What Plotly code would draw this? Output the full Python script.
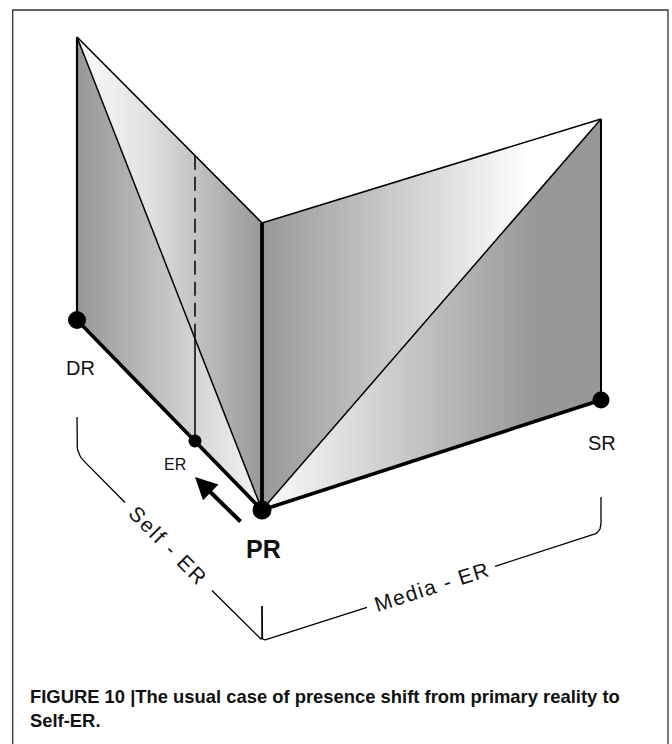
import numpy as np
import plotly.graph_objects as go

# ---------------- diagram data (canvas coordinates) ----------------
node_labels = ["DR", "ER", "PR", "SR"]
node_x = [77, 195, 262, 601]
node_y = [320, 441, 510, 400]

# top corners of the two walls: above DR, above PR (fold), above SR
top_x = [77, 262, 601]
top_y = [37, 223, 119]

bracket_labels = ["Self - ER", "Media - ER"]
caption_lines = ["FIGURE 10 |The usual case of presence shift from primary reality to",
                 "Self-ER."]

# ---------------- derived geometry ----------------
DR = (node_x[0], node_y[0]); ER = (node_x[1], node_y[1])
PR = (node_x[2], node_y[2]); SR = (node_x[3], node_y[3])
A = (top_x[0], top_y[0]); F = (top_x[1], top_y[1]); S = (top_x[2], top_y[2])

FONT = "Liberation Sans, Arial, sans-serif"

fig = go.Figure()

# ---------------- gradient faces (heatmap, NaN outside) ----------------
xs = np.arange(60, 620) + 0.5
ys = np.arange(25, 525) + 0.5
X, Y = np.meshgrid(xs, ys)
Z = np.full(X.shape, np.nan)


def inside(tri):
    (x1, y1), (x2, y2), (x3, y3) = tri
    d1 = (X - x2) * (y1 - y2) - (x1 - x2) * (Y - y2)
    d2 = (X - x3) * (y2 - y3) - (x2 - x3) * (Y - y3)
    d3 = (X - x1) * (y3 - y1) - (x3 - x1) * (Y - y1)
    neg = (d1 < 0) | (d2 < 0) | (d3 < 0)
    pos = (d1 > 0) | (d2 > 0) | (d3 > 0)
    return ~(neg & pos)


faces = [
    ((A, DR, PR), [77, 255], [150, 243]),          # left wall, lower triangle
    ((A, F, PR), [77, 150, 262], [252, 224, 152]),  # left wall, upper triangle
    ((F, S, PR), [262, 530], [152, 255]),           # right wall, upper triangle
    ((PR, S, SR), [262, 535], [252, 152]),          # right wall, lower triangle
]
for tri, gx, gv in faces:
    m = inside(tri)
    Z[m] = np.round(np.interp(X[m], gx, gv))

fig.add_trace(go.Heatmap(
    x=xs, y=ys, z=Z, zmin=0, zmax=255,
    colorscale=[[0, "rgb(0,0,0)"], [1, "rgb(255,255,255)"]],
    showscale=False, hoverinfo="skip", zsmooth=False,
))


def seg(p, q, w, dash=None):
    fig.add_trace(go.Scatter(
        x=[p[0], q[0]], y=[p[1], q[1]], mode="lines",
        line=dict(color="black", width=w, dash=dash),
        hoverinfo="skip", showlegend=False,
    ))


def on_line(p, q, x):
    return p[1] + (q[1] - p[1]) * (x - p[0]) / (q[0] - p[0])


# edges
seg(A, F, 1.6)
seg(A, PR, 1.5)
seg(F, S, 1.6)
seg(PR, S, 1.5)
seg(A, DR, 2.2)
seg(S, SR, 2.0)
seg(F, PR, 3.8)
seg(DR, PR, 3.6)
seg(PR, SR, 3.6)

# ER vertical: dashed above the A-PR diagonal, solid below
er_top = on_line(A, F, ER[0])
er_mid = on_line(A, PR, ER[0])
seg((ER[0], er_top), (ER[0], er_mid), 1.5, dash="14px,7px")
seg((ER[0], er_mid), ER, 1.5)


# ---------------- brackets ----------------
def rounded(points, r, n=10):
    pts = [np.array(p, float) for p in points]
    out = [pts[0]]
    for i in range(1, len(pts) - 1):
        p0, p1, p2 = pts[i - 1], pts[i], pts[i + 1]
        d1 = (p0 - p1) / np.linalg.norm(p0 - p1)
        d2 = (p2 - p1) / np.linalg.norm(p2 - p1)
        a = p1 + d1 * r
        b = p1 + d2 * r
        for t in np.linspace(0, 1, n):
            out.append((1 - t) ** 2 * a + 2 * (1 - t) * t * p1 + t ** 2 * b)
    out.append(pts[-1])
    arr = np.array(out)
    return arr[:, 0], arr[:, 1]


def bline(points, r):
    bx, by = rounded(points, r)
    fig.add_trace(go.Scatter(x=bx, y=by, mode="lines",
                             line=dict(color="black", width=1.3),
                             hoverinfo="skip", showlegend=False))


# left bracket (parallel to DR-PR), right bracket (parallel to PR-SR)
bl_top = (DR[0], 417)
bl_corner = (DR[0], 454)
b_bottom = (PR[0], 641)
b_tick = (PR[0], 606)
br_corner = (SR[0], 532.4)
br_top = (SR[0], 497)


def along(p, q, x):
    return (x, on_line(p, q, x))


bline([bl_top, bl_corner, along(bl_corner, b_bottom, 125)], 10)
bline([along(bl_corner, b_bottom, 212), b_bottom, b_tick], 5)
bline([b_tick, b_bottom, along(b_bottom, br_corner, 367)], 5)
bline([along(b_bottom, br_corner, 495), br_corner, br_top], 9)

# ---------------- nodes ----------------
fig.add_trace(go.Scatter(
    x=node_x, y=node_y, mode="markers",
    marker=dict(color="black", size=[18, 13, 19, 17], opacity=1, line=dict(width=0)),
    hoverinfo="skip", showlegend=False,
))

# ---------------- labels ----------------
ann = []
label_pos = {"DR": (80, 368, 20, False), "ER": (175, 464, 16, False),
             "PR": (263, 549, 25, True), "SR": (602, 443, 20, False)}
for lab in node_labels:
    lx, ly, fs, bold = label_pos[lab]
    ann.append(dict(x=lx, y=ly, text=f"<b>{lab}</b>" if bold else lab,
                    showarrow=False, xanchor="center", yanchor="middle",
                    font=dict(family=FONT, size=fs, color="#111")))

ang_l = np.degrees(np.arctan2(b_bottom[1] - bl_corner[1], b_bottom[0] - bl_corner[0]))
ang_r = np.degrees(np.arctan2(br_corner[1] - b_bottom[1], br_corner[0] - b_bottom[0]))
ann.append(dict(x=168, y=on_line(bl_corner, b_bottom, 168),
                text=f'<span style="letter-spacing:2px">{bracket_labels[0]}</span>',
                textangle=ang_l, showarrow=False, xanchor="center", yanchor="middle",
                font=dict(family=FONT, size=21, color="#111")))
ann.append(dict(x=432, y=on_line(b_bottom, br_corner, 432),
                text=f'<span style="letter-spacing:1.5px">{bracket_labels[1]}</span>',
                textangle=ang_r, showarrow=False, xanchor="center", yanchor="middle",
                font=dict(family=FONT, size=21, color="#111")))

# arrow from PR toward ER
ann.append(dict(x=195, y=477, ax=242, ay=523, axref="x", ayref="y", xref="x", yref="y",
                text="", showarrow=True, arrowhead=2, arrowsize=1.1, arrowwidth=4,
                arrowcolor="black"))

# caption
ann.append(dict(x=28, y=696.5, text=f"<b>{caption_lines[0]}</b>", showarrow=False,
                xanchor="left", yanchor="middle",
                font=dict(family=FONT, size=18.4, color="#111")))
ann.append(dict(x=28, y=720.5, text=f"<b>{caption_lines[1]}</b>", showarrow=False,
                xanchor="left", yanchor="middle",
                font=dict(family=FONT, size=18.4, color="#111")))

for a in ann:
    a.setdefault("xref", "x")
    a.setdefault("yref", "y")

fig.update_layout(
    width=672, height=744,
    margin=dict(l=0, r=0, t=0, b=0),
    paper_bgcolor="white", plot_bgcolor="white",
    xaxis=dict(range=[0, 672], visible=False, fixedrange=True),
    yaxis=dict(range=[744, 0], visible=False, fixedrange=True),
    showlegend=False,
    annotations=ann,
    shapes=[dict(type="rect", xref="x", yref="y", x0=12.7, y0=10, x1=668, y1=780,
                 line=dict(color="#333", width=1.3), layer="above")],
)

fig.write_html(
    "out.html",
    config={"displayModeBar": False},
    post_script="document.body.style.margin='0';document.body.style.overflow='hidden';",
)
